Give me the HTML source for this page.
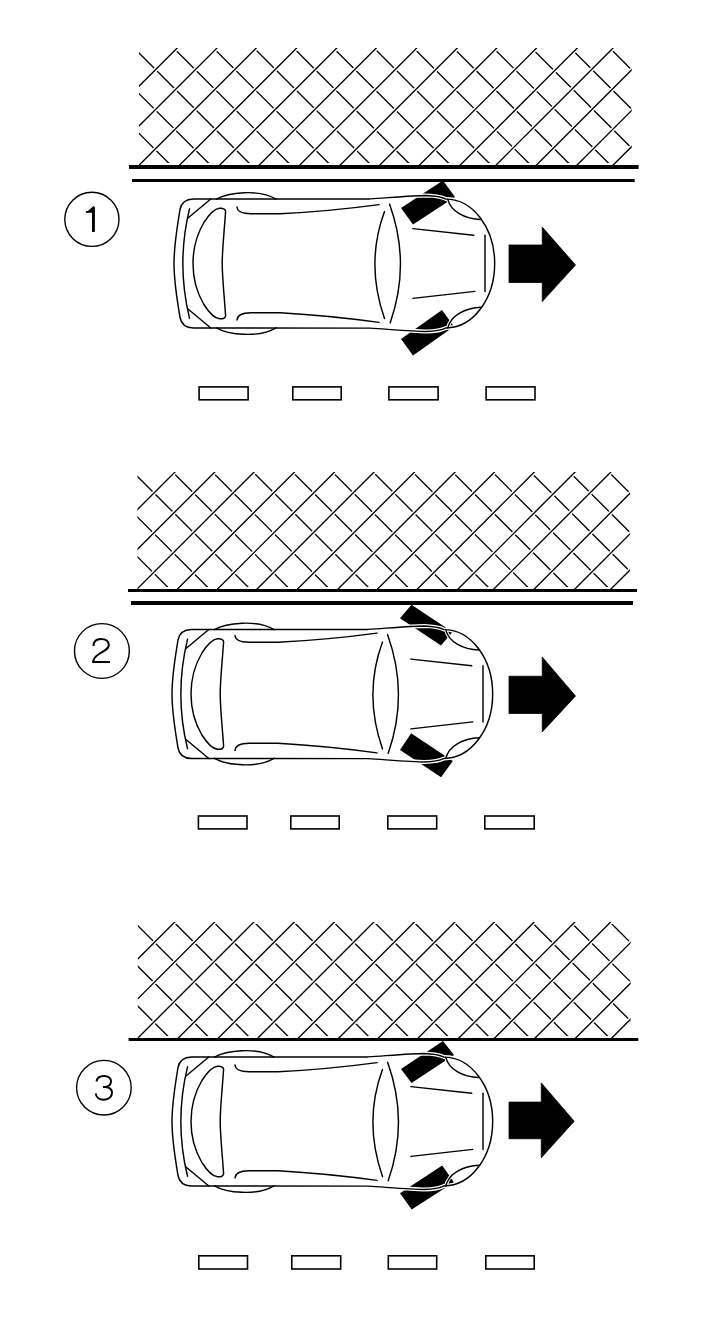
<!DOCTYPE html>
<html><head><meta charset="utf-8"><title>Parking diagram</title>
<style>
html,body{margin:0;padding:0;background:#fff;}
body{width:720px;height:1323px;overflow:hidden;font-family:"Liberation Sans",sans-serif;}
svg{display:block;}
</style></head>
<body>
<svg width="720" height="1323" viewBox="0 0 720 1323">
<rect width="720" height="1323" fill="#fff"/>
<clipPath id="c1"><rect x="139" y="48" width="492.7" height="117"/></clipPath>
<clipPath id="c1b"><rect x="139" y="50" width="492.7" height="113"/></clipPath>
<g clip-path="url(#c1b)" fill="none" stroke-linecap="butt">
<path d="M50.6 45L173.6 168M90.4 45L213.4 168M131 45L254 168M170.6 45L293.6 168M210.4 45L333.4 168M251 45L374 168M290.6 45L413.6 168M330.4 45L453.4 168M371 45L494 168M410.6 45L533.6 168M450.5 45L573.5 168M490.4 45L613.4 168M528.5 45L651.5 168M567.5 45L690.5 168M606.8 45L729.8 168" stroke="#000" stroke-width="1.35"/>
</g>
<g clip-path="url(#c1)" fill="none" stroke-linecap="butt">
<path d="M57.2 168L180.2 45M97 168L220 45M136.3 168L259.3 45M176.7 168L299.7 45M216.8 168L339.8 45M256.3 168L379.3 45M296.8 168L419.8 45M337.3 168L460.3 45M376.8 168L499.8 45M416.6 168L539.6 45M457.3 168L580.3 45M493.1 168L616.1 45M533.5 168L656.5 45M574.1 168L697.1 45M610.2 168L733.2 45" stroke="#fff" stroke-width="4.2"/>
<path d="M57.2 168L180.2 45M97 168L220 45M136.3 168L259.3 45M176.7 168L299.7 45M216.8 168L339.8 45M256.3 168L379.3 45M296.8 168L419.8 45M337.3 168L460.3 45M376.8 168L499.8 45M416.6 168L539.6 45M457.3 168L580.3 45M493.1 168L616.1 45M533.5 168L656.5 45M574.1 168L697.1 45M610.2 168L733.2 45" stroke="#000" stroke-width="1.35"/>
</g>
<rect x="129" y="165" width="509.6" height="4" fill="#000"/>
<rect x="132" y="179" width="502.7" height="3" fill="#000"/>
<circle cx="91.9" cy="219.3" r="27.1" fill="none" stroke="#000" stroke-width="1.4"/>
<polygon points="85.9,210.9 88,210.9 93.4,206 94.9,207 94.9,231.2 94,231.9 92,231.9 92,212.7 85.9,212.7" fill="#000"/>
<polygon points="401,208 413,224.5 455,197 443,180.5" fill="#000"/>
<polygon points="401,339 413,355.6 454,326.6 442,310" fill="#000"/>
<g transform="translate(0 0)" fill="none" stroke-linejoin="round" stroke-linecap="round">
<path d="M193.5 199 L370 198.9 C395 197.2 415 195.5 426 195.5 C436 195.8 442 197 446 199.1 A48.7 64.4 0 0 1 446 327.9 C442 330 436 331.2 426 331.5 C415 331.5 395 329.8 370 328.1 L193.5 328 C184.7 327.8 181.2 324 180 317.5 C177.7 303 174 283 174 263.5 C174 244 177.7 224 180 209.5 C181.2 203 184.7 199.2 193.5 199 Z" stroke="#fff" stroke-width="4"/>
<path d="M447.7 199.1 C451 212 465 219 481 219.5" stroke="#fff" stroke-width="3.5"/>
<path d="M447.7 327.9 C451 315 465 308 481.5 307.2" stroke="#fff" stroke-width="3.5"/>
<path d="M193.5 199 L370 198.9 C395 197.2 415 195.5 426 195.5 C436 195.8 442 197 446 199.1 A48.7 64.4 0 0 1 446 327.9 C442 330 436 331.2 426 331.5 C415 331.5 395 329.8 370 328.1 L193.5 328 C184.7 327.8 181.2 324 180 317.5 C177.7 303 174 283 174 263.5 C174 244 177.7 224 180 209.5 C181.2 203 184.7 199.2 193.5 199 Z" stroke="#000" stroke-width="1.45"/>
<path d="M447.7 199.1 C451 212 465 219 481 219.5" stroke="#000" stroke-width="1.45"/>
<path d="M447.7 327.9 C451 315 465 308 481.5 307.2" stroke="#000" stroke-width="1.45"/>
<path d="M189.5 208.8 Q176.2 263.5 189.5 318.2" stroke="#000" stroke-width="1.45"/>
<path d="M188.3 217.8 L210.8 199" stroke="#000" stroke-width="1.45"/>
<path d="M188.3 309.2 L210.8 328" stroke="#000" stroke-width="1.45"/>
<path d="M225.6 211.2 C224.2 232 222.2 250 222.2 263.5 C222.2 277 224.2 295 225.6 315.8 C225 318.8 222 319 219.5 318.8 C214.5 318.3 209 312.5 203.9 304.5 C196.5 292 193 278 193 263.5 C193 249 196.5 235 203.9 222.5 C209 214.5 214.5 208.7 219.5 208.2 C222 208 225 208.2 225.6 211.2 Z" stroke="#000" stroke-width="1.45"/>
<path d="M216.5 199.2 C228 192.3 259 188.8 276 199.2" stroke="#000" stroke-width="1.45"/>
<path d="M216.5 327.8 C228 334.7 259 338.2 276 327.8" stroke="#000" stroke-width="1.45"/>
<path d="M237 320 C237.3 315 241.5 312.8 251 312.7 L280 312.7 Q330 315.5 379 322.4" stroke="#000" stroke-width="1.45"/>
<path d="M384.5 211.6 Q365.3 263.5 384.5 318.6" stroke="#000" stroke-width="1.45"/>
<path d="M389.6 204.2 Q411 263.5 390.2 322.7" stroke="#000" stroke-width="1.45"/>
<path d="M412.9 228.6 L473.7 235.3" stroke="#000" stroke-width="1.45"/>
<path d="M412.9 298.4 L474.8 291.4" stroke="#000" stroke-width="1.45"/>
<path d="M485 235.3 L485 291.4" stroke="#000" stroke-width="1.45"/>
<path d="M237 207 C237.5 211.5 241 213.6 251 213.8 L280 213.8 Q330 211.2 379 204.6" stroke="#000" stroke-width="1.45" transform="translate(0 0)"/>
</g>
<polygon points="509,245 542.25,245 542.25,227.1 575.5,265 542.25,301.6 542.25,282.5 509,282.5" fill="#000" stroke="#000" stroke-width="0.8" stroke-linejoin="round"/>
<rect x="199.1" y="386.9" width="49" height="12.9" fill="none" stroke="#000" stroke-width="1.6"/>
<rect x="292.8" y="386.9" width="48.4" height="12.9" fill="none" stroke="#000" stroke-width="1.6"/>
<rect x="388.9" y="386.9" width="49.2" height="12.9" fill="none" stroke="#000" stroke-width="1.6"/>
<rect x="486.1" y="386.9" width="48.9" height="12.9" fill="none" stroke="#000" stroke-width="1.6"/>
<clipPath id="c2"><rect x="137.4" y="472" width="492.7" height="117"/></clipPath>
<clipPath id="c2b"><rect x="137.4" y="474" width="492.7" height="113"/></clipPath>
<g clip-path="url(#c2b)" fill="none" stroke-linecap="butt">
<path d="M49.6 469L172.6 592M89.4 469L212.4 592M130 469L253 592M169.6 469L292.6 592M209.4 469L332.4 592M250 469L373 592M289.6 469L412.6 592M329.4 469L452.4 592M370 469L493 592M409.6 469L532.6 592M449.5 469L572.5 592M489.4 469L612.4 592M527.5 469L650.5 592M566.5 469L689.5 592M605.8 469L728.8 592" stroke="#000" stroke-width="1.35"/>
</g>
<g clip-path="url(#c2)" fill="none" stroke-linecap="butt">
<path d="M55 592L178 469M94.8 592L217.8 469M134.1 592L257.1 469M174.5 592L297.5 469M214.6 592L337.6 469M254.1 592L377.1 469M294.6 592L417.6 469M335.1 592L458.1 469M374.6 592L497.6 469M414.4 592L537.4 469M455.1 592L578.1 469M490.9 592L613.9 469M531.3 592L654.3 469M571.9 592L694.9 469M608 592L731 469" stroke="#fff" stroke-width="4.2"/>
<path d="M55 592L178 469M94.8 592L217.8 469M134.1 592L257.1 469M174.5 592L297.5 469M214.6 592L337.6 469M254.1 592L377.1 469M294.6 592L417.6 469M335.1 592L458.1 469M374.6 592L497.6 469M414.4 592L537.4 469M455.1 592L578.1 469M490.9 592L613.9 469M531.3 592L654.3 469M571.9 592L694.9 469M608 592L731 469" stroke="#000" stroke-width="1.35"/>
</g>
<rect x="128" y="589" width="509" height="3" fill="#000"/>
<rect x="131" y="601" width="502" height="4" fill="#000"/>
<circle cx="101.9" cy="651" r="27.4" fill="none" stroke="#000" stroke-width="1.4"/>
<path d="M93.5 646 C93.5 641 96 638.9 101 638.9 C106 638.9 108.8 641.5 108.8 645 C108.8 649 104 651 99 654 C95 656.5 93.3 659 93.2 662 L110 662" fill="none" stroke="#000" stroke-width="2"/>
<polygon points="411.5,604.8 400,618.3 441,645.5 452.5,632" fill="#000"/>
<polygon points="411.1,733.3 400,750 441.1,777.2 452.8,761" fill="#000"/>
<g transform="translate(-2 430.5)" fill="none" stroke-linejoin="round" stroke-linecap="round">
<path d="M193.5 199 L370 198.9 C395 197.2 415 195.5 426 195.5 C436 195.8 442 197 446 199.1 A48.7 64.4 0 0 1 446 327.9 C442 330 436 331.2 426 331.5 C415 331.5 395 329.8 370 328.1 L193.5 328 C184.7 327.8 181.2 324 180 317.5 C177.7 303 174 283 174 263.5 C174 244 177.7 224 180 209.5 C181.2 203 184.7 199.2 193.5 199 Z" stroke="#fff" stroke-width="4"/>
<path d="M447.7 199.1 C451 212 465 219 481 219.5" stroke="#fff" stroke-width="3.5"/>
<path d="M447.7 327.9 C451 315 465 308 481.5 307.2" stroke="#fff" stroke-width="3.5"/>
<path d="M193.5 199 L370 198.9 C395 197.2 415 195.5 426 195.5 C436 195.8 442 197 446 199.1 A48.7 64.4 0 0 1 446 327.9 C442 330 436 331.2 426 331.5 C415 331.5 395 329.8 370 328.1 L193.5 328 C184.7 327.8 181.2 324 180 317.5 C177.7 303 174 283 174 263.5 C174 244 177.7 224 180 209.5 C181.2 203 184.7 199.2 193.5 199 Z" stroke="#000" stroke-width="1.45"/>
<path d="M447.7 199.1 C451 212 465 219 481 219.5" stroke="#000" stroke-width="1.45"/>
<path d="M447.7 327.9 C451 315 465 308 481.5 307.2" stroke="#000" stroke-width="1.45"/>
<path d="M189.5 208.8 Q176.2 263.5 189.5 318.2" stroke="#000" stroke-width="1.45"/>
<path d="M188.3 217.8 L210.8 199" stroke="#000" stroke-width="1.45"/>
<path d="M188.3 309.2 L210.8 328" stroke="#000" stroke-width="1.45"/>
<path d="M225.6 211.2 C224.2 232 222.2 250 222.2 263.5 C222.2 277 224.2 295 225.6 315.8 C225 318.8 222 319 219.5 318.8 C214.5 318.3 209 312.5 203.9 304.5 C196.5 292 193 278 193 263.5 C193 249 196.5 235 203.9 222.5 C209 214.5 214.5 208.7 219.5 208.2 C222 208 225 208.2 225.6 211.2 Z" stroke="#000" stroke-width="1.45"/>
<path d="M216.5 199.2 C228 192.3 259 188.8 276 199.2" stroke="#000" stroke-width="1.45"/>
<path d="M216.5 327.8 C228 334.7 259 338.2 276 327.8" stroke="#000" stroke-width="1.45"/>
<path d="M237 320 C237.3 315 241.5 312.8 251 312.7 L280 312.7 Q330 315.5 379 322.4" stroke="#000" stroke-width="1.45"/>
<path d="M384.5 211.6 Q365.3 263.5 384.5 318.6" stroke="#000" stroke-width="1.45"/>
<path d="M389.6 204.2 Q411 263.5 390.2 322.7" stroke="#000" stroke-width="1.45"/>
<path d="M412.9 228.6 L473.7 235.3" stroke="#000" stroke-width="1.45"/>
<path d="M412.9 298.4 L474.8 291.4" stroke="#000" stroke-width="1.45"/>
<path d="M485 235.3 L485 291.4" stroke="#000" stroke-width="1.45"/>
<path d="M237 207 C237.5 211.5 241 213.6 251 213.8 L280 213.8 Q330 211.2 379 204.6" stroke="#000" stroke-width="1.45" transform="translate(0 -2)"/>
</g>
<polygon points="509,676.25 542.25,676.25 542.25,657.1 575.5,696 542.25,731.9 542.25,713.5 509,713.5" fill="#000" stroke="#000" stroke-width="0.8" stroke-linejoin="round"/>
<rect x="198.4" y="816" width="48.6" height="12.9" fill="none" stroke="#000" stroke-width="1.6"/>
<rect x="290.8" y="816" width="48.4" height="12.9" fill="none" stroke="#000" stroke-width="1.6"/>
<rect x="387.8" y="816" width="48.9" height="12.9" fill="none" stroke="#000" stroke-width="1.6"/>
<rect x="484.8" y="816" width="49.4" height="12.9" fill="none" stroke="#000" stroke-width="1.6"/>
<clipPath id="c3"><rect x="137.85" y="922" width="492.7" height="116"/></clipPath>
<clipPath id="c3b"><rect x="137.85" y="924" width="492.7" height="112"/></clipPath>
<g clip-path="url(#c3b)" fill="none" stroke-linecap="butt">
<path d="M50.7 919L172.7 1041M90.5 919L212.5 1041M131.1 919L253.1 1041M170.7 919L292.7 1041M210.5 919L332.5 1041M251.1 919L373.1 1041M290.7 919L412.7 1041M330.5 919L452.5 1041M371.1 919L493.1 1041M410.7 919L532.7 1041M450.6 919L572.6 1041M490.5 919L612.5 1041M528.6 919L650.6 1041M567.6 919L689.6 1041M606.9 919L728.9 1041" stroke="#000" stroke-width="1.35"/>
</g>
<g clip-path="url(#c3)" fill="none" stroke-linecap="butt">
<path d="M55.8 1041L177.8 919M95.6 1041L217.6 919M134.9 1041L256.9 919M175.3 1041L297.3 919M215.4 1041L337.4 919M254.9 1041L376.9 919M295.4 1041L417.4 919M335.9 1041L457.9 919M375.4 1041L497.4 919M415.2 1041L537.2 919M455.9 1041L577.9 919M491.7 1041L613.7 919M532.1 1041L654.1 919M572.7 1041L694.7 919M608.8 1041L730.8 919" stroke="#fff" stroke-width="4.2"/>
<path d="M55.8 1041L177.8 919M95.6 1041L217.6 919M134.9 1041L256.9 919M175.3 1041L297.3 919M215.4 1041L337.4 919M254.9 1041L376.9 919M295.4 1041L417.4 919M335.9 1041L457.9 919M375.4 1041L497.4 919M415.2 1041L537.2 919M455.9 1041L577.9 919M491.7 1041L613.7 919M532.1 1041L654.1 919M572.7 1041L694.7 919M608.8 1041L730.8 919" stroke="#000" stroke-width="1.35"/>
</g>
<rect x="128.6" y="1038" width="509.7" height="3" fill="#000"/>
<circle cx="103.9" cy="1087.7" r="27.3" fill="none" stroke="#000" stroke-width="1.4"/>
<path d="M96.5 1081.5 C97 1077.5 99.5 1076 104 1076 C108.5 1076 111 1078.5 111 1081 C111 1084.5 108.5 1087 104 1087 L103 1087 M104 1087 C109.5 1087 112 1089.5 112 1092.8 C112 1097 108.5 1099.7 104 1099.7 C99 1099.7 96 1097 95.8 1093.5" fill="none" stroke="#000" stroke-width="2"/>
<polygon points="401,1069 411.5,1083 454,1055 443,1041" fill="#000"/>
<polygon points="400,1193.3 411.7,1209.4 454,1182.2 442.2,1165.6" fill="#000"/>
<g transform="translate(-2 858)" fill="none" stroke-linejoin="round" stroke-linecap="round">
<path d="M193.5 199 L370 198.9 C395 197.2 415 195.5 426 195.5 C436 195.8 442 197 446 199.1 A48.7 64.4 0 0 1 446 327.9 C442 330 436 331.2 426 331.5 C415 331.5 395 329.8 370 328.1 L193.5 328 C184.7 327.8 181.2 324 180 317.5 C177.7 303 174 283 174 263.5 C174 244 177.7 224 180 209.5 C181.2 203 184.7 199.2 193.5 199 Z" stroke="#fff" stroke-width="4"/>
<path d="M447.7 199.1 C451 212 465 219 481 219.5" stroke="#fff" stroke-width="3.5"/>
<path d="M447.7 327.9 C451 315 465 308 481.5 307.2" stroke="#fff" stroke-width="3.5"/>
<path d="M193.5 199 L370 198.9 C395 197.2 415 195.5 426 195.5 C436 195.8 442 197 446 199.1 A48.7 64.4 0 0 1 446 327.9 C442 330 436 331.2 426 331.5 C415 331.5 395 329.8 370 328.1 L193.5 328 C184.7 327.8 181.2 324 180 317.5 C177.7 303 174 283 174 263.5 C174 244 177.7 224 180 209.5 C181.2 203 184.7 199.2 193.5 199 Z" stroke="#000" stroke-width="1.45"/>
<path d="M447.7 199.1 C451 212 465 219 481 219.5" stroke="#000" stroke-width="1.45"/>
<path d="M447.7 327.9 C451 315 465 308 481.5 307.2" stroke="#000" stroke-width="1.45"/>
<path d="M189.5 208.8 Q176.2 263.5 189.5 318.2" stroke="#000" stroke-width="1.45"/>
<path d="M188.3 217.8 L210.8 199" stroke="#000" stroke-width="1.45"/>
<path d="M188.3 309.2 L210.8 328" stroke="#000" stroke-width="1.45"/>
<path d="M225.6 211.2 C224.2 232 222.2 250 222.2 263.5 C222.2 277 224.2 295 225.6 315.8 C225 318.8 222 319 219.5 318.8 C214.5 318.3 209 312.5 203.9 304.5 C196.5 292 193 278 193 263.5 C193 249 196.5 235 203.9 222.5 C209 214.5 214.5 208.7 219.5 208.2 C222 208 225 208.2 225.6 211.2 Z" stroke="#000" stroke-width="1.45"/>
<path d="M216.5 199.2 C228 192.3 259 188.8 276 199.2" stroke="#000" stroke-width="1.45"/>
<path d="M216.5 327.8 C228 334.7 259 338.2 276 327.8" stroke="#000" stroke-width="1.45"/>
<path d="M237 320 C237.3 315 241.5 312.8 251 312.7 L280 312.7 Q330 315.5 379 322.4" stroke="#000" stroke-width="1.45"/>
<path d="M384.5 211.6 Q365.3 263.5 384.5 318.6" stroke="#000" stroke-width="1.45"/>
<path d="M389.6 204.2 Q411 263.5 390.2 322.7" stroke="#000" stroke-width="1.45"/>
<path d="M412.9 228.6 L473.7 235.3" stroke="#000" stroke-width="1.45"/>
<path d="M412.9 298.4 L474.8 291.4" stroke="#000" stroke-width="1.45"/>
<path d="M485 235.3 L485 291.4" stroke="#000" stroke-width="1.45"/>
<path d="M237 207 C237.5 211.5 241 213.6 251 213.8 L280 213.8 Q330 211.2 379 204.6" stroke="#000" stroke-width="1.45" transform="translate(0 0)"/>
</g>
<polygon points="509,1102.1 541.25,1102.1 541.25,1082.9 574.2,1121.25 541.25,1157.8 541.25,1138.75 509,1138.75" fill="#000" stroke="#000" stroke-width="0.8" stroke-linejoin="round"/>
<rect x="198.8" y="1255.8" width="48.7" height="13.2" fill="none" stroke="#000" stroke-width="1.6"/>
<rect x="291.8" y="1255.8" width="48.9" height="13.2" fill="none" stroke="#000" stroke-width="1.6"/>
<rect x="388.3" y="1255.8" width="48.4" height="13.2" fill="none" stroke="#000" stroke-width="1.6"/>
<rect x="485.8" y="1255.8" width="48.4" height="13.2" fill="none" stroke="#000" stroke-width="1.6"/>
</svg>
</body></html>
